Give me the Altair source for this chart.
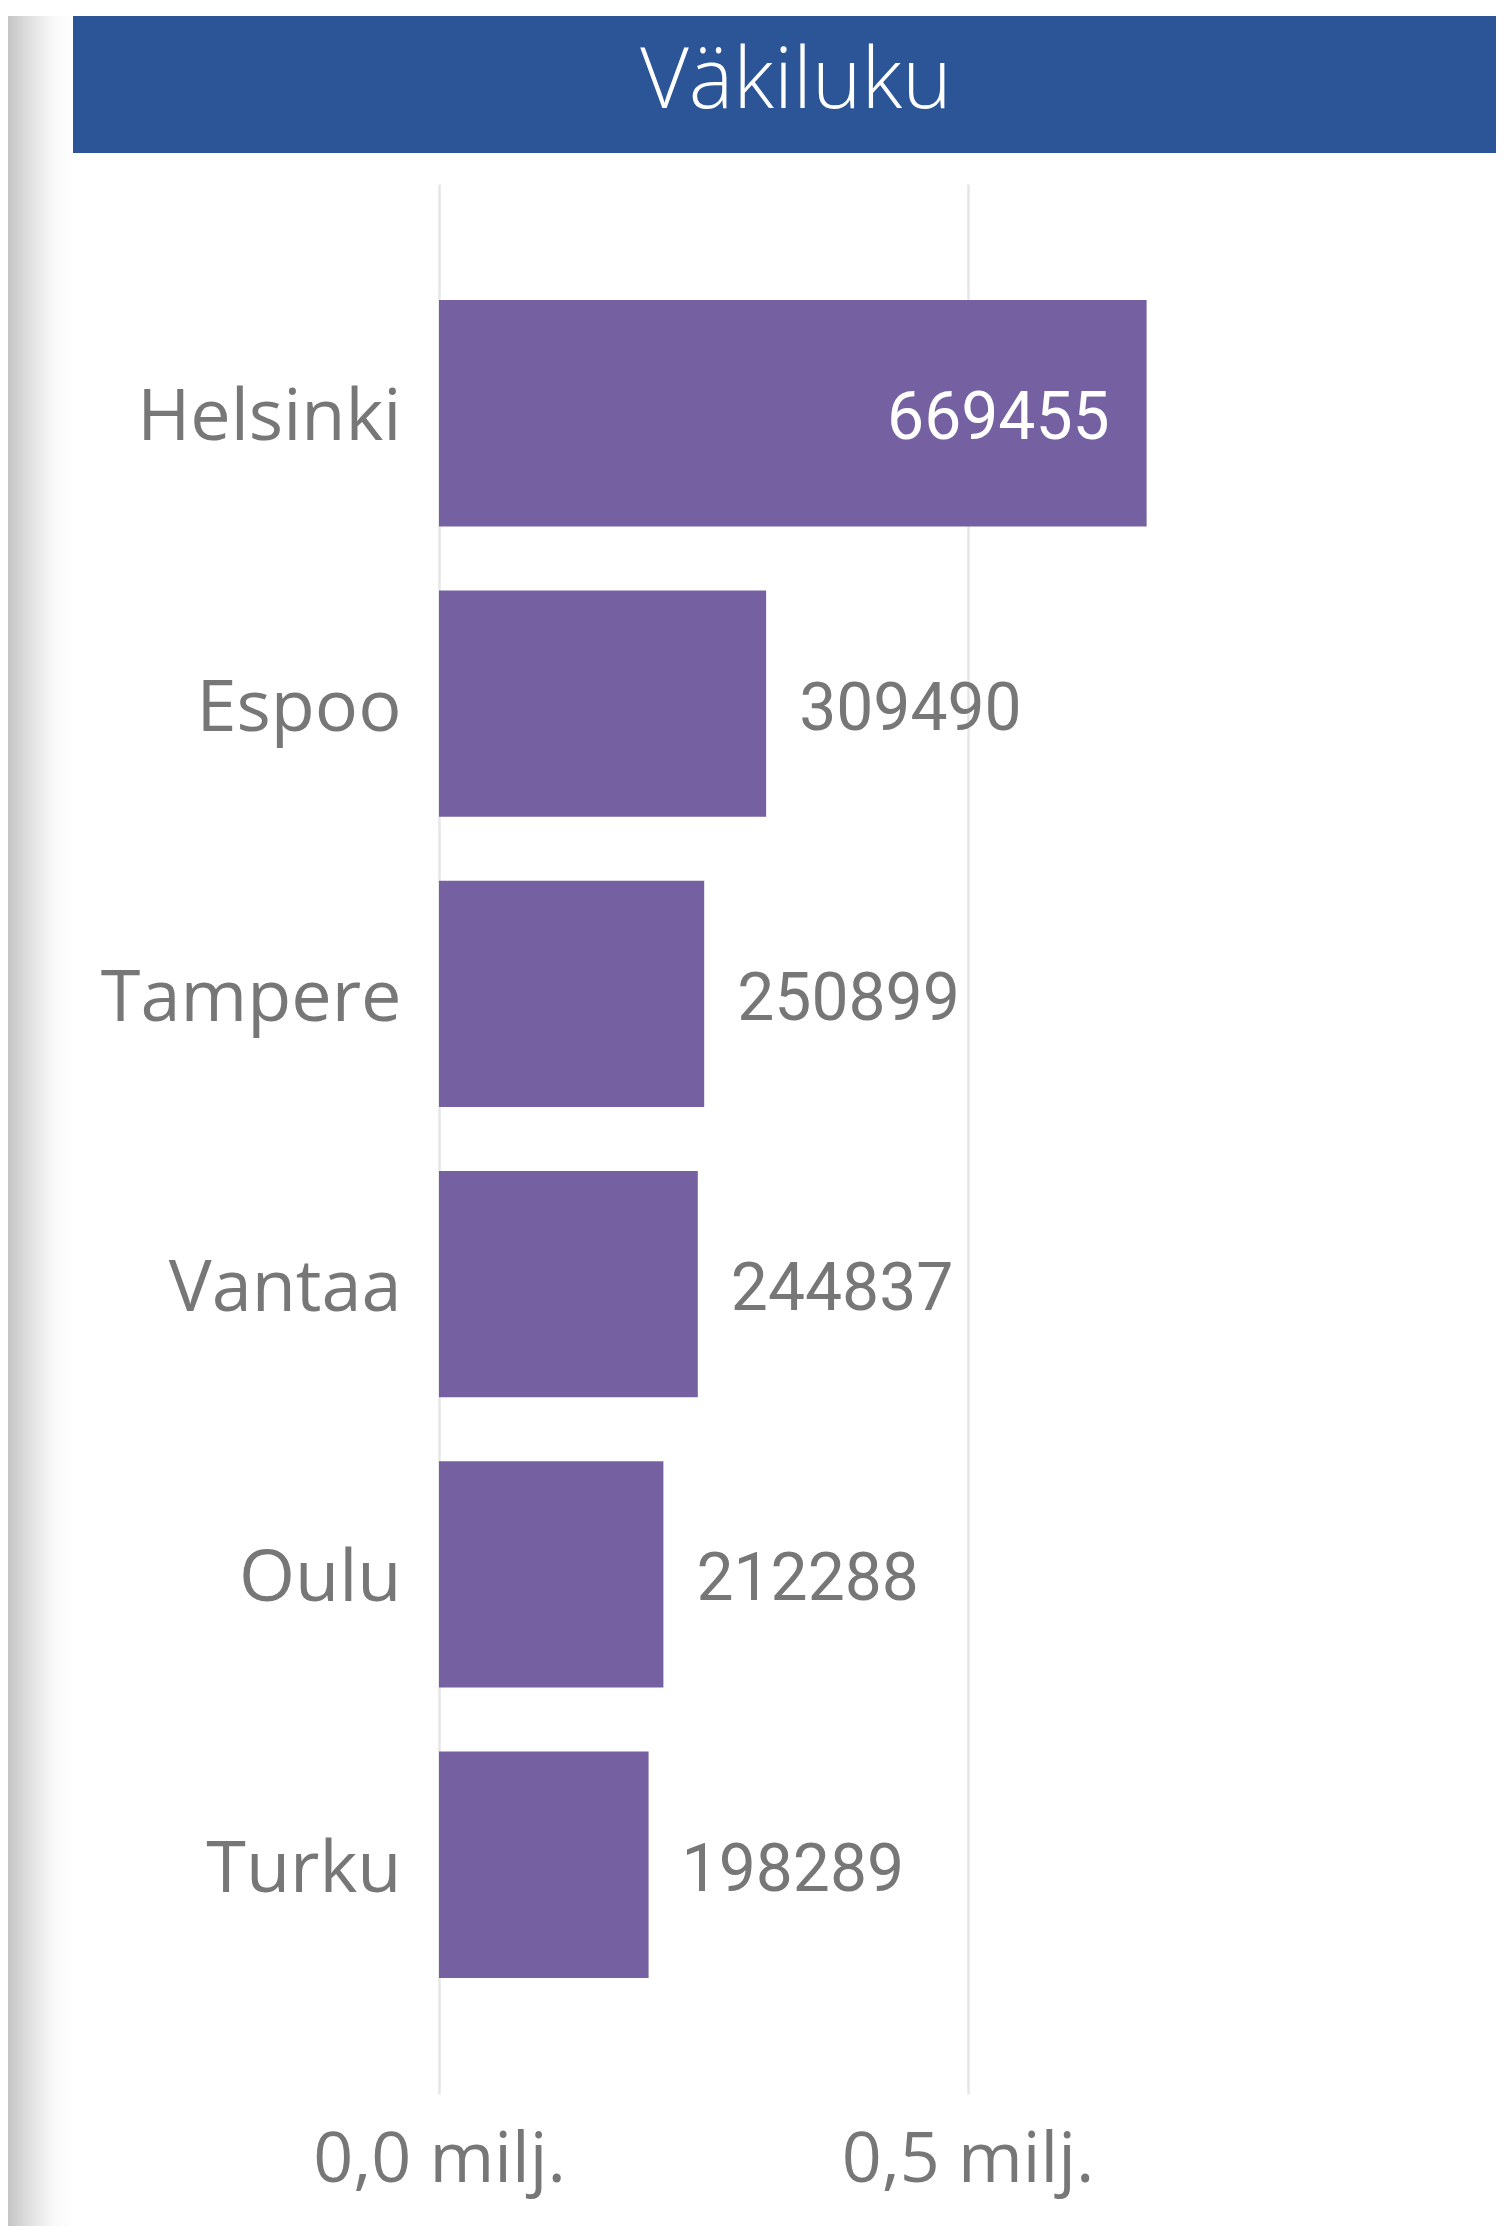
import altair as alt
import pandas as pd

# ---- data ----
cities = ["Helsinki", "Espoo", "Tampere", "Vantaa", "Oulu", "Turku"]
population = [669455, 309490, 250899, 244837, 212288, 198289]
label_inside = [True, False, False, False, False, False]
x_ticks = [0, 500000]
title_text = ["Väkiluku"]

df = pd.DataFrame({"city": cities, "pop": population, "inside": label_inside})
title_df = pd.DataFrame({"t": title_text})

GRAY = "#777777"
PURPLE = "#7561A1"
BLUE = "#2B5597"
CAT_FONT = "'Open Sans', sans-serif"
NUM_FONT = "Roboto, sans-serif"
TITLE_FONT = "'Open Sans', sans-serif"

FULL_H = 2210
PANEL_W = 1423
HEADER_H = 137
MAIN_H = 1910
LEFT_GUTTER = 366

# left shadow strip
strip = alt.Chart(title_df).mark_rect(
    color=alt.LinearGradient(
        gradient="linear", x1=0, x2=1, y1=0, y2=0,
        stops=[
            alt.GradientStop(color="#c4c4c4", offset=0),
            alt.GradientStop(color="#dedede", offset=0.3),
            alt.GradientStop(color="#f8f8f8", offset=0.7),
            alt.GradientStop(color="#ffffff", offset=1),
        ],
    )
).encode(opacity=alt.value(1)).properties(width=65, height=FULL_H)

# header band with title
header_bg = alt.Chart(title_df).mark_rect(color=BLUE).encode(opacity=alt.value(1))
header_txt = alt.Chart(title_df).mark_text(
    font=TITLE_FONT, fontSize=84, fontWeight=300, color="white",
    align="center", baseline="alphabetic"
).encode(text="t:N", x=alt.value(723), y=alt.value(92))
header = alt.layer(header_bg, header_txt).properties(width=PANEL_W, height=HEADER_H)

# main bar chart
y_enc = alt.Y(
    "city:N", sort=cities,
    scale=alt.Scale(paddingInner=0.22, paddingOuter=0.4),
    axis=alt.Axis(
        title=None, ticks=False, domain=False, grid=False, offset=-LEFT_GUTTER,
        labelPadding=38, labelOffset=5, labelFont=CAT_FONT, labelFontSize=72,
        labelColor=GRAY, labelLimit=600,
    ),
)
x_enc = alt.X(
    "pop:Q",
    scale=alt.Scale(domain=[0, 1000000], nice=False, range=[LEFT_GUTTER, PANEL_W]),
    axis=alt.Axis(
        title=None, values=x_ticks, ticks=False, domain=False,
        grid=True, gridColor="#e6e6e6", gridWidth=2.5,
        labelExpr="replace(format(datum.value / 1000000, '.1f'), '.', ',') + ' milj.'",
        labelFont=CAT_FONT, labelFontSize=70, labelColor=GRAY,
        labelPadding=32, labelLimit=600, labelOverlap=False, labelFlush=False,
    ),
)

base = alt.Chart(df).encode(y=y_enc)
bars = base.mark_bar(color=PURPLE).encode(x=x_enc)
out_txt = base.mark_text(
    align="left", baseline="middle", dx=33, dy=6, font=NUM_FONT, fontSize=66, color=GRAY
).encode(x="pop:Q", text=alt.Text("pop:Q", format="d")).transform_filter("!datum.inside")
in_txt = base.mark_text(
    align="right", baseline="middle", dx=-37, dy=6, font=NUM_FONT, fontSize=66, color="white"
).encode(x="pop:Q", text=alt.Text("pop:Q", format="d")).transform_filter("datum.inside")

main = alt.layer(bars, out_txt, in_txt).properties(width=PANEL_W, height=MAIN_H)

right_col = alt.vconcat(header, main, spacing=31)

chart = alt.hconcat(
    strip,
    right_col,
    spacing=0,
).properties(
    padding={"left": 0, "top": 8, "right": 0, "bottom": 0},
    background="white",
).configure_view(stroke=None)

chart.save("out.html", embed_options={"renderer": "svg", "actions": False})
